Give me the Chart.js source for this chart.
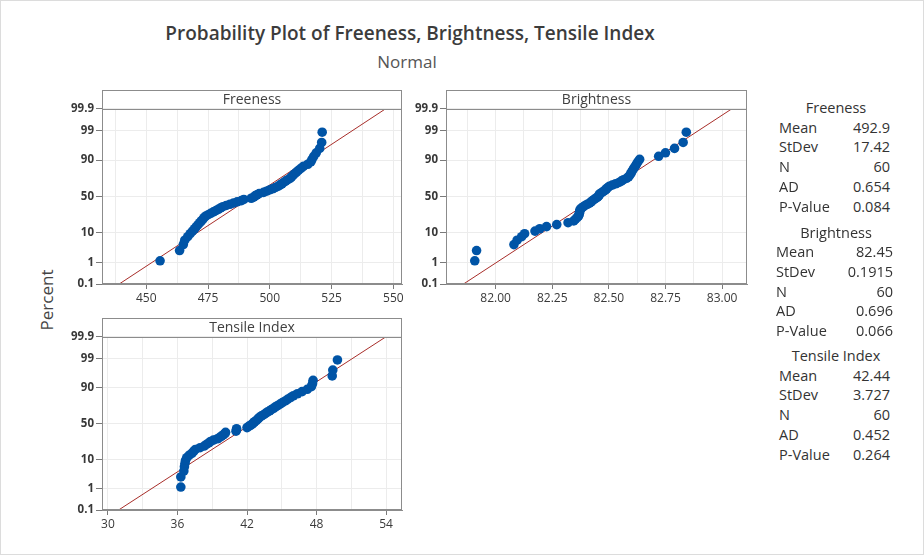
<!DOCTYPE html>
<html>
<head>
<meta charset="utf-8">
<title>Probability Plot of Freeness, Brightness, Tensile Index</title>
<script src="https://cdn.jsdelivr.net/npm/chart.js@4.4.1/dist/chart.umd.min.js"></script>
<style>
    body { margin: 0; background: #fff; }
    #page { position: relative; width: 924px; height: 555px; overflow: hidden; font-family: "Open Sans", sans-serif; color: #333; }
    #frame { position: absolute; left: 0; top: 0; width: 922px; height: 553px; border: 1px solid #dcdcdc; }
    canvas { position: absolute; }
    .txt { position: absolute; white-space: nowrap; line-height: 1; }
    #title { left: 410px; top: 33px; transform: translate(-50%, -50%); font-size: 19px; font-weight: 600; color: #3c3c3c; }
    #subtitle { left: 407px; top: 61px; transform: translate(-50%, -50%); font-size: 17px; color: #555; }
    #ylabel { left: 46px; top: 300px; transform: translate(-50%, -50%) rotate(-90deg); font-size: 17px; color: #444; }
    .stat { font-size: 14.5px; color: #333; }
</style>
</head>
<body>
<div id="page">
    <div id="frame"></div>
    <div class="txt" id="title">Probability Plot of Freeness, Brightness, Tensile Index</div>
    <div class="txt" id="subtitle">Normal</div>
    <div class="txt" id="ylabel">Percent</div>
    <canvas id="freenessChart" width="362" height="220" style="left:50px; top:88px;"></canvas>
    <canvas id="brightnessChart" width="363" height="220" style="left:394px; top:88px;"></canvas>
    <canvas id="tensileChart" width="362" height="218" style="left:50px; top:316px;"></canvas>
    <div id="stats"></div>
</div>
<script>
const freenessValues = [
    455.6, 463.5, 465.0, 465.6, 466.8, 467.8, 468.7, 469.6, 470.3, 471.0,
    471.7, 472.3, 472.9, 473.4, 474.0, 475.1, 476.1, 477.2, 478.2, 479.2,
    480.1, 481.0, 482.4, 483.9, 485.3, 486.8, 488.5, 489.5, 492.5, 493.5,
    494.1, 494.8, 495.7, 497.5, 498.7, 499.9, 501.1, 502.2, 503.3, 504.1,
    504.9, 505.6, 506.4, 507.3, 508.2, 508.8, 509.4, 510.1, 510.8, 511.6,
    512.6, 513.6, 515.4, 516.6, 517.1, 517.8, 518.8, 520.2, 521.0, 521.2
];
const brightnessValues = [
    81.908, 81.916, 82.081, 82.095, 82.115, 82.128, 82.174, 82.195, 82.225, 82.270,
    82.320, 82.345, 82.352, 82.360, 82.366, 82.368, 82.370, 82.371, 82.372, 82.374,
    82.380, 82.388, 82.395, 82.405, 82.415, 82.422, 82.428, 82.435, 82.442, 82.450,
    82.455, 82.458, 82.461, 82.470, 82.478, 82.485, 82.490, 82.495, 82.502, 82.515,
    82.530, 82.545, 82.555, 82.565, 82.578, 82.587, 82.592, 82.597, 82.600, 82.605,
    82.610, 82.616, 82.622, 82.628, 82.636, 82.720, 82.750, 82.790, 82.828, 82.842
];
const tensileValues = [
    36.29, 36.29, 36.55, 36.60, 36.65, 36.70, 36.80, 37.00, 37.25, 37.40,
    37.55, 37.95, 38.30, 38.50, 38.70, 38.85, 39.10, 39.45, 39.65, 39.80,
    39.95, 40.10, 40.15, 41.05, 41.10, 41.10, 42.00, 42.15, 42.30, 42.45,
    42.55, 42.65, 42.80, 42.90, 43.00, 43.10, 43.25, 43.45, 43.60, 43.75,
    43.95, 44.10, 44.30, 44.45, 44.65, 44.85, 45.05, 45.30, 45.50, 45.75,
    46.00, 46.35, 46.75, 47.20, 47.55, 47.65, 47.70, 49.35, 49.40, 49.80
];

// probability axis
const pctTicks = [0.1, 1, 10, 50, 90, 99, 99.9];
const pctTickLabels = ['0.1', '1', '10', '50', '90', '99', '99.9'];

// x axes
const freenessTicks = [450, 475, 500, 525, 550];
const freenessTickLabels = ['450', '475', '500', '525', '550'];
const brightnessTicks = [82.00, 82.25, 82.50, 82.75, 83.00];
const brightnessTickLabels = ['82.00', '82.25', '82.50', '82.75', '83.00'];
const tensileTicks = [30, 36, 42, 48, 54];
const tensileTickLabels = ['30', '36', '42', '48', '54'];

// summary table
const statNames = ['Mean', 'StDev', 'N', 'AD', 'P-Value'];
const freenessStats = ['492.9', '17.42', '60', '0.654', '0.084'];
const brightnessStats = ['82.45', '0.1915', '60', '0.696', '0.066'];
const tensileStats = ['42.44', '3.727', '60', '0.452', '0.264'];

Chart.defaults.font.family = '"Open Sans", sans-serif';

// inverse normal cdf (Acklam)
function probit(p) {
    const a = [-39.69683028665376, 220.9460984245205, -275.9285104469687, 138.3577518672690, -30.66479806614716, 2.506628277459239];
    const b = [-54.47609879822406, 161.5858368580409, -155.6989798598866, 66.80131188771972, -13.28068155288572];
    const c = [-0.007784894002430293, -0.3223964580411365, -2.400758277161838, -2.549732539343734, 4.374664141464968, 2.938163982698783];
    const d = [0.007784695709041462, 0.3224671290700398, 2.445134137142996, 3.754408661907416];
    const lo = 0.02425;
    if (p < lo) {
        const q = Math.sqrt(-2 * Math.log(p));
        return (((((c[0]*q+c[1])*q+c[2])*q+c[3])*q+c[4])*q+c[5]) / ((((d[0]*q+d[1])*q+d[2])*q+d[3])*q+1);
    }
    if (p > 1 - lo) {
        const q = Math.sqrt(-2 * Math.log(1 - p));
        return -(((((c[0]*q+c[1])*q+c[2])*q+c[3])*q+c[4])*q+c[5]) / ((((d[0]*q+d[1])*q+d[2])*q+d[3])*q+1);
    }
    const q = p - 0.5, r = q * q;
    return (((((a[0]*r+a[1])*r+a[2])*r+a[3])*r+a[4])*r+a[5])*q / (((((b[0]*r+b[1])*r+b[2])*r+b[3])*r+b[4])*r+1);
}

const zMin = probit(0.001);
const zMax = probit(0.999);

// header strip + box round the plot area
const panelFrame = {
    id: 'panelFrame',
    afterDraw(chart, args, opts) {
        const { ctx, chartArea: a } = chart;
        ctx.save();
        ctx.strokeStyle = '#8c8c8c';
        ctx.lineWidth = 1;
        ctx.strokeRect(a.left + 0.5, a.top - 19 + 0.5, a.right - a.left - 1, a.bottom - a.top + 19 - 1);
        ctx.beginPath();
        ctx.moveTo(a.left, a.top + 0.5);
        ctx.lineTo(a.right, a.top + 0.5);
        ctx.stroke();
        ctx.fillStyle = '#404040';
        ctx.font = '14px "Open Sans"';
        ctx.textAlign = 'center';
        ctx.textBaseline = 'middle';
        ctx.fillText(opts.title, (a.left + a.right) / 2, a.top - 9);
        ctx.restore();
    }
};

function makePanel(id, title, values, ticks, tickLabels, xMin, xMax, stats) {
    const n = values.length;
    // median rank plotting positions
    const points = values.map((v, i) => ({ x: v, y: probit((i + 1 - 0.3) / (n + 0.4)) }));
    const mean = parseFloat(stats[0]);
    const sd = parseFloat(stats[1]);
    const fit = [{ x: mean + zMin * sd, y: zMin }, { x: mean + zMax * sd, y: zMax }];

    const step = ticks[1] - ticks[0];
    const gridVals = [];
    for (let v = ticks[0] - step / 2; v <= xMax + 1e-9; v += step / 2) {
        if (v >= xMin) gridVals.push(+v.toFixed(4));
    }
    const isMajor = v => ticks.some(t => Math.abs(t - v) < 1e-6);

    return new Chart(document.getElementById(id), {
        type: 'scatter',
        data: {
            datasets: [
                {
                    type: 'scatter',
                    data: points,
                    pointRadius: 4.8,
                    pointHoverRadius: 4.8,
                    backgroundColor: '#0054a6',
                    borderWidth: 0,
                    order: 1
                },
                {
                    type: 'line',
                    data: fit,
                    borderColor: '#a82e2a',
                    borderWidth: 1,
                    pointRadius: 0,
                    order: 2
                }
            ]
        },
        options: {
            responsive: false,
            animation: false,
            layout: { padding: { top: 21, right: 10, left: 0, bottom: 0 } },
            plugins: {
                legend: { display: false },
                tooltip: { enabled: false },
                panelFrame: { title: title }
            },
            scales: {
                x: {
                    type: 'linear',
                    min: xMin,
                    max: xMax,
                    afterBuildTicks: scale => { scale.ticks = gridVals.map(v => ({ value: v })); },
                    afterFit: scale => { scale.height = 24; },
                    border: { display: true, color: '#8c8c8c' },
                    grid: {
                        color: '#ececec',
                        tickLength: 5,
                        tickColor: c => (c.tick && isMajor(c.tick.value)) ? '#7a7a7a' : 'rgba(0,0,0,0)'
                    },
                    ticks: {
                        autoSkip: false,
                        maxRotation: 0,
                        padding: 2,
                        color: '#3a3a3a',
                        font: { size: 12 },
                        callback: v => {
                            const k = ticks.findIndex(t => Math.abs(t - v) < 1e-6);
                            return k >= 0 ? tickLabels[k] : '';
                        }
                    }
                },
                y: {
                    type: 'linear',
                    min: zMin,
                    max: zMax,
                    afterBuildTicks: scale => { scale.ticks = pctTicks.map(p => ({ value: probit(p / 100) })); },
                    afterFit: scale => { scale.width = 52; },
                    border: { display: true, color: '#8c8c8c' },
                    grid: { color: '#ececec', tickLength: 6, tickColor: '#7a7a7a' },
                    ticks: {
                        padding: 2,
                        color: '#383838',
                        font: { size: 11.5, weight: 'bold' },
                        callback: (v, i) => pctTickLabels[i]
                    }
                }
            }
        },
        plugins: [panelFrame]
    });
}

makePanel('freenessChart', 'Freeness', freenessValues, freenessTicks, freenessTickLabels, 432.1, 553.5, freenessStats);
makePanel('brightnessChart', 'Brightness', brightnessValues, brightnessTicks, brightnessTickLabels, 81.781, 83.110, brightnessStats);
makePanel('tensileChart', 'Tensile Index', tensileValues, tensileTicks, tensileTickLabels, 29.49, 55.37, tensileStats);

// summary table on the right
const statGroups = [
    { title: 'Freeness', stats: freenessStats, top: 108, left: 779, right: 890 },
    { title: 'Brightness', stats: brightnessStats, top: 232.5, left: 776, right: 893 },
    { title: 'Tensile Index', stats: tensileStats, top: 356, left: 779, right: 890 }
];
const statsBox = document.getElementById('stats');
statGroups.forEach(g => {
    let html = `<div class="txt stat" style="left:836px; top:${g.top}px; transform:translate(-50%,-50%);">${g.title}</div>`;
    statNames.forEach((name, k) => {
        const y = g.top + 19.7 * (k + 1);
        html += `<div class="txt stat" style="left:${g.left}px; top:${y}px; transform:translateY(-50%);">${name}</div>`;
        html += `<div class="txt stat" style="left:${g.right}px; top:${y}px; transform:translate(-100%,-50%);">${g.stats[k]}</div>`;
    });
    statsBox.insertAdjacentHTML('beforeend', html);
});
</script>
</body>
</html>
